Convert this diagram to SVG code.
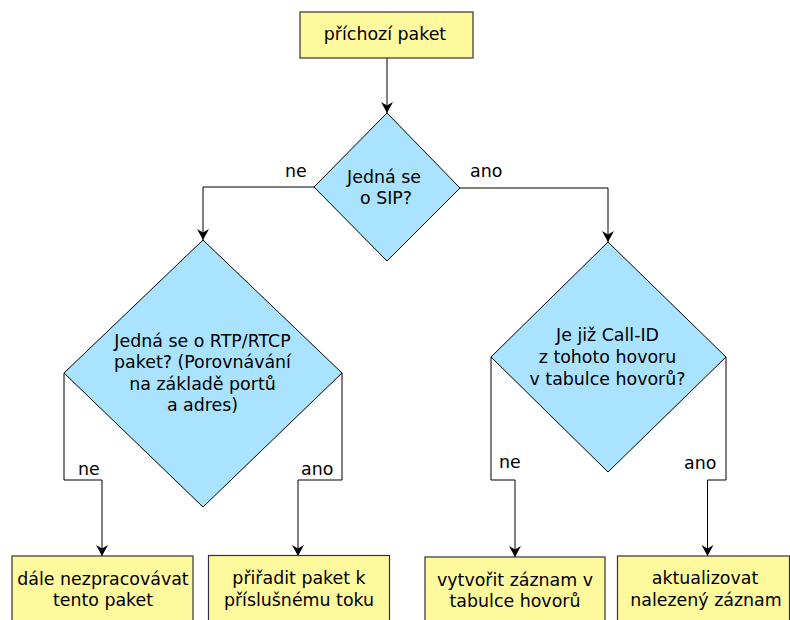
<svg xmlns="http://www.w3.org/2000/svg" width="790" height="620" viewBox="0 0 790 620">
  <style>
    .box { fill: #fff99e; stroke: #333333; stroke-width: 1.2; }
    .dia { fill: #aae3ff; stroke: #000000; stroke-width: 1; }
    .txt { font-family: "DejaVu Sans", sans-serif; font-size: 17.4px; fill: #000000; text-anchor: middle; }
    .lbl { font-family: "DejaVu Sans", sans-serif; font-size: 17.4px; fill: #000000; }
    .edge { fill: none; stroke: #000000; stroke-width: 1; marker-end: url(#arrow); }
  </style>
  <defs>
    <marker id="arrow" markerUnits="userSpaceOnUse" orient="auto" markerWidth="14" markerHeight="14" viewBox="-12 -7 14 14" refX="0" refY="0">
      <path d="M0,0 L-11,-6 L-7.5,0 L-11,6 Z" fill="#000000"/>
    </marker>
  </defs>

  <rect width="790" height="620" fill="#ffffff"/>

  <!-- connectors -->
  <g id="connectors">
    <path class="edge" d="M387,58 L387,113"/>
    <path class="edge" d="M314,187 L203,187 L203,240"/>
    <path class="edge" d="M460,188 L608,188 L608,242"/>
    <path class="edge" d="M64,373 L64,480 L102,480 L102,556"/>
    <path class="edge" d="M342,373 L342,480 L298,480 L298,556"/>
    <path class="edge" d="M491,357 L491,480 L515,480 L515,557"/>
    <path class="edge" d="M726,357 L726,480 L707.5,480 L707.5,556"/>
    <text class="lbl" x="285" y="177">ne</text>
    <text class="lbl" x="470" y="177">ano</text>
    <text class="lbl" x="78" y="475">ne</text>
    <text class="lbl" x="301" y="475">ano</text>
    <text class="lbl" x="499" y="468">ne</text>
    <text class="lbl" x="684" y="469">ano</text>
  </g>

  <!-- start -->
  <g id="start">
    <rect class="box" x="300" y="12" width="173" height="46"/>
    <text class="txt" x="385" y="39.5">příchozí paket</text>
  </g>

  <!-- decision: SIP? -->
  <g id="is-sip">
    <polygon class="dia" points="387,113 460,188 387,261 314,187"/>
    <text class="txt" x="384" y="183">Jedná se</text>
    <text class="txt" x="386" y="204">o SIP?</text>
  </g>

  <!-- decision: RTP/RTCP? -->
  <g id="is-rtp">
    <polygon class="dia" points="203,240 342,373 203,507 64,373"/>
    <text class="txt" x="202.5" y="346.5">Jedná se o RTP/RTCP</text>
    <text class="txt" x="202.5" y="368">paket? (Porovnávání</text>
    <text class="txt" x="202.5" y="389.5">na základě portů</text>
    <text class="txt" x="202.5" y="411">a adres)</text>
  </g>

  <!-- decision: known Call-ID? -->
  <g id="known-call">
    <polygon class="dia" points="608,242 726,357 608,472 491,357"/>
    <text class="txt" x="607.5" y="340.5">Je již Call-ID</text>
    <text class="txt" x="607.5" y="363">z tohoto hovoru</text>
    <text class="txt" x="607.5" y="385">v tabulce hovorů?</text>
  </g>

  <!-- outcomes -->
  <g id="drop">
    <rect class="box" x="12" y="556" width="181" height="70"/>
    <text class="txt" x="103" y="584.5">dále nezpracovávat</text>
    <text class="txt" x="103" y="606">tento paket</text>
  </g>
  <g id="assign-flow">
    <rect class="box" x="208.5" y="555.5" width="181" height="70"/>
    <text class="txt" x="299" y="584">přiřadit paket k</text>
    <text class="txt" x="299" y="606">příslušnému toku</text>
  </g>
  <g id="create-record">
    <rect class="box" x="425" y="557" width="180" height="70"/>
    <text class="txt" x="515" y="585.5">vytvořit záznam v</text>
    <text class="txt" x="515" y="607">tabulce hovorů</text>
  </g>
  <g id="update-record">
    <rect class="box" x="617.5" y="556" width="172" height="70"/>
    <text class="txt" x="705" y="584">aktualizovat</text>
    <text class="txt" x="706" y="606">nalezený záznam</text>
  </g>
</svg>
